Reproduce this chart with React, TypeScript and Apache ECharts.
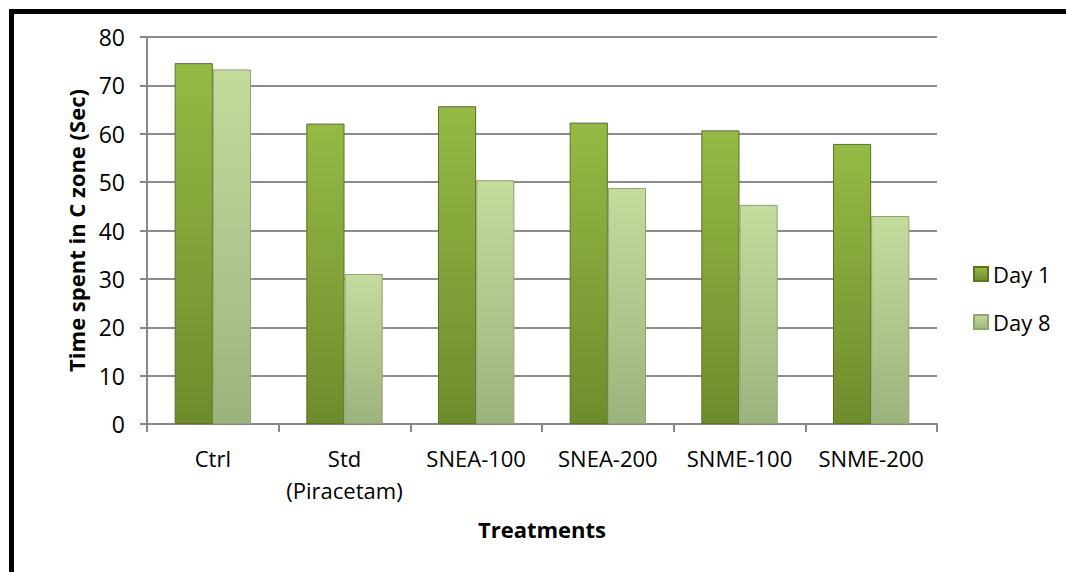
import React, { useEffect, useRef } from "react";
import * as echarts from "echarts";

const categories = ["Ctrl", "Std\n(Piracetam)", "SNEA-100", "SNEA-200", "SNME-100", "SNME-200"];
const day1 = [74.6, 62.1, 65.7, 62.3, 60.7, 57.9];
const day8 = [73.3, 31.0, 50.4, 48.8, 45.3, 43.0];
const yTicks = [0, 10, 20, 30, 40, 50, 60, 70, 80];

const FONT = "'Open Sans', sans-serif";

export default function App() {
  const ref = useRef<HTMLDivElement>(null);
  useEffect(() => {
    if (!ref.current) return;
    const chart = echarts.init(ref.current, undefined, { renderer: "svg" });
    const g1 = new echarts.graphic.LinearGradient(0, 0, 0, 1, [
      { offset: 0, color: "#94ba45" },
      { offset: 1, color: "#6f8c2d" },
    ]);
    const g8 = new echarts.graphic.LinearGradient(0, 0, 0, 1, [
      { offset: 0, color: "#c3dc9b" },
      { offset: 1, color: "#9db37f" },
    ]);
    chart.setOption({
      animation: false,
      backgroundColor: "#ffffff",
      textStyle: { fontFamily: FONT },
      graphic: [
        {
          type: "rect",
          shape: { x: 11.5, y: 11.5, width: 1200, height: 700 },
          style: { fill: "none", stroke: "#000", lineWidth: 5 },
          silent: true,
        },
      ],
      grid: { left: 147, right: 129, top: 37, bottom: 148 },
      legend: {
        orient: "vertical",
        left: 968,
        top: 258,
        itemWidth: 14,
        itemHeight: 14,
        itemGap: 26,
        icon: "rect",
        textStyle: { fontSize: 22, color: "#000", fontFamily: FONT },
        data: ["Day 1", "Day 8"],
      },
      xAxis: {
        type: "category",
        data: categories,
        name: "Treatments",
        nameLocation: "middle",
        nameGap: 94,
        nameTextStyle: { fontSize: 22, fontWeight: "bold", color: "#000", fontFamily: FONT },
        axisLine: { lineStyle: { color: "#888", width: 2 } },
        axisTick: { show: true, interval: 0, length: 8, lineStyle: { color: "#888", width: 2 } },
        axisLabel: { interval: 0, fontSize: 22, color: "#000", margin: 18, lineHeight: 32, fontFamily: FONT },
      },
      yAxis: {
        type: "value",
        min: 0,
        max: 80,
        interval: 10,
        name: "Time spent in C zone (Sec)",
        nameLocation: "middle",
        nameGap: 60,
        nameTextStyle: { fontSize: 22, fontWeight: "bold", color: "#000", fontFamily: FONT },
        axisLine: { show: true, lineStyle: { color: "#888", width: 2 } },
        axisTick: { show: true, length: 7, lineStyle: { color: "#888", width: 2 } },
        axisLabel: {
          fontSize: 23,
          color: "#000",
          margin: 22,
          fontFamily: FONT,
          formatter: (v: number) => (yTicks.includes(v) ? String(v) : ""),
        },
        splitLine: { lineStyle: { color: "#8c8c8c", width: 2 } },
      },
      series: [
        {
          name: "Day 1",
          type: "bar",
          data: day1,
          barGap: "0%",
          barCategoryGap: "42%",
          itemStyle: { color: g1, borderColor: "#5a7423", borderWidth: 1 },
        },
        {
          name: "Day 8",
          type: "bar",
          data: day8,
          itemStyle: { color: g8, borderColor: "#8ea56c", borderWidth: 1 },
        },
      ],
    });
    return () => chart.dispose();
  }, []);
  return <div ref={ref} style={{ position: "fixed", left: 0, top: 0, width: 1066, height: 572 }} />;
}
